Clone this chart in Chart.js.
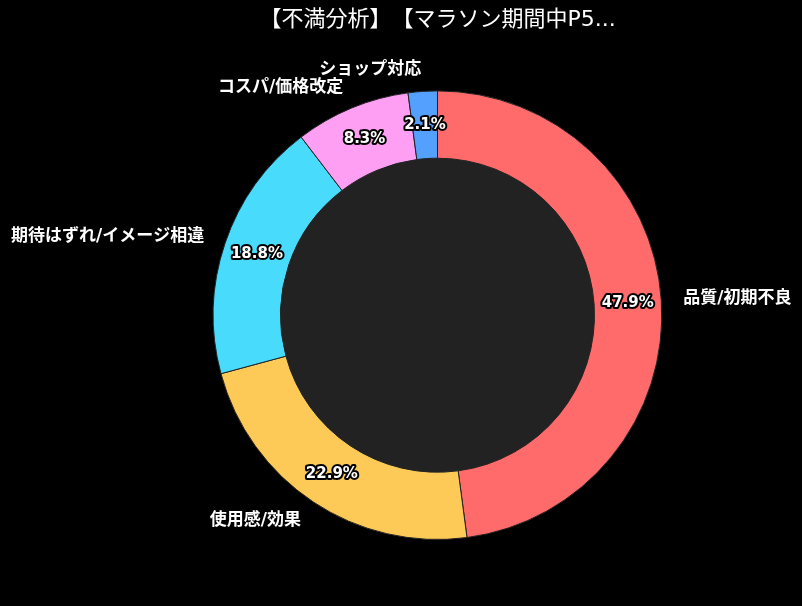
<!DOCTYPE html>
<html>
<head>
<meta charset="utf-8">
<script src="https://cdn.jsdelivr.net/npm/chart.js@4/dist/chart.umd.min.js"></script>
<style>
  html, body { margin: 0; padding: 0; background: #000; }
  #wrap { width: 802px; height: 606px; }
  canvas { text-spacing-trim: space-all; }
</style>
</head>
<body>
<div id="wrap"><canvas id="myChart"></canvas></div>
<script>
const FONT = "'DejaVu Sans', 'Noto Sans CJK JP', sans-serif";

// chart data
const titleText = "【不満分析】【マラソン期間中P5...";
const categories = ["品質/初期不良", "使用感/効果", "期待はずれ/イメージ相違", "コスパ/価格改定", "ショップ対応"];
const shares = [47.9, 22.9, 18.8, 8.3, 2.1];
const colors = ["#ff6b6b", "#feca57", "#48dbfb", "#ff9ff3", "#54a0ff"];

// fill the doughnut hole with dark gray
const holePlugin = {
  id: "hole",
  beforeDatasetsDraw(chart) {
    const arc = chart.getDatasetMeta(0).data[0];
    if (!arc) return;
    const c = chart.ctx;
    c.save();
    c.fillStyle = "#222222";
    c.beginPath();
    c.arc(arc.x, arc.y, arc.innerRadius + 1, 0, Math.PI * 2);
    c.fill();
    c.restore();
  },
};

// percent labels in the ring, category names outside
const labelPlugin = {
  id: "sliceLabels",
  afterDatasetsDraw(chart) {
    const c = chart.ctx;
    const meta = chart.getDatasetMeta(0);
    meta.data.forEach(function (arc, i) {
      const mid = (arc.startAngle + arc.endAngle) / 2;
      const cos = Math.cos(mid);
      const sin = Math.sin(mid);

      // percent
      const rm = (arc.innerRadius + arc.outerRadius) / 2;
      c.save();
      c.font = "bold 15px " + FONT;
      c.textAlign = "center";
      c.textBaseline = "middle";
      c.lineJoin = "round";
      c.lineWidth = 4;
      c.strokeStyle = "#000";
      c.fillStyle = "#fff";
      const txt = shares[i].toFixed(1) + "%";
      c.strokeText(txt, arc.x + cos * rm, arc.y + sin * rm);
      c.fillText(txt, arc.x + cos * rm, arc.y + sin * rm);

      // category
      const ro = arc.outerRadius + 22;
      c.font = "bold 17px " + FONT;
      c.textAlign = cos >= 0 ? "left" : "right";
      c.fillText(categories[i], arc.x + cos * ro, arc.y + sin * ro);
      c.restore();
    });
  },
};

let ctx = document.getElementById("myChart").getContext("2d");
let chart = new Chart(ctx, {
  type: "doughnut",
  data: {
    labels: categories,
    datasets: [
      {
        data: shares,
        backgroundColor: colors,
        borderColor: "#222222",
        borderWidth: 1,
      },
    ],
  },
  options: {
    responsive: true,
    maintainAspectRatio: false,
    animation: false,
    cutout: "70%",
    layout: { padding: { left: 73, right: 0, top: 0, bottom: 66 } },
    plugins: {
      legend: { display: false },
      tooltip: { enabled: false },
      title: {
        display: true,
        text: titleText,
        color: "#ffffff",
        font: { family: FONT, size: 22, weight: "normal" },
        padding: { top: 7, bottom: 57 },
      },
    },
  },
  plugins: [holePlugin, labelPlugin],
});
</script>
</body>
</html>
